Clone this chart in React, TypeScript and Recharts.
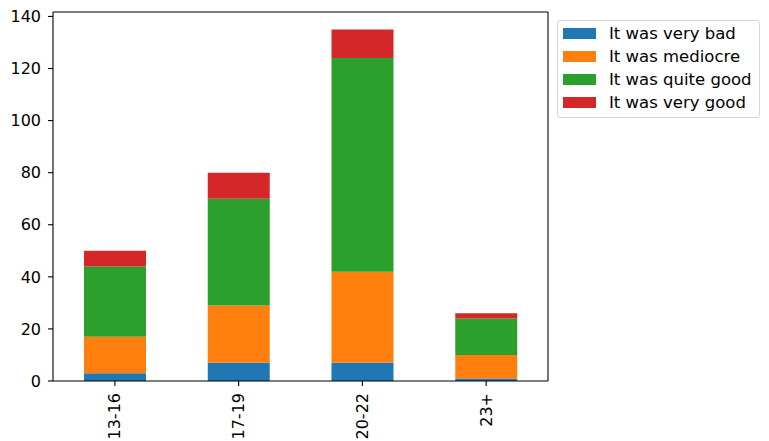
import React from 'react';
import { BarChart, Bar, XAxis, YAxis } from 'recharts';

const ageGroups = ['13-16', '17-19', '20-22', '23+'];
const veryBad = [3, 7, 7, 1];
const mediocre = [14, 22, 35, 9];
const quiteGood = [27, 41, 82, 14];
const veryGood = [6, 10, 11, 2];
const yTicks = [0, 20, 40, 60, 80, 100, 120, 140];

const series = [
  { key: 'veryBad', name: 'It was very bad', color: '#1f77b4' },
  { key: 'mediocre', name: 'It was mediocre', color: '#ff7f0e' },
  { key: 'quiteGood', name: 'It was quite good', color: '#2ca02c' },
  { key: 'veryGood', name: 'It was very good', color: '#d62728' },
];

const data = ageGroups.map((group, i) => ({
  group,
  veryBad: veryBad[i],
  mediocre: mediocre[i],
  quiteGood: quiteGood[i],
  veryGood: veryGood[i],
}));

const FONT = '"DejaVu Sans", sans-serif';
const axisStyle = { stroke: '#000', strokeWidth: 1.1 };

// rotated category labels, like matplotlib's rot=90
const XTick = (props: any) => {
  const { x, y, payload } = props;
  return (
    <g transform={`translate(${x},${y})`}>
      <text transform="rotate(-90)" textAnchor="end" dy="0.35em" fontSize={16} fill="#000" fontFamily={FONT}>
        {payload.value}
      </text>
    </g>
  );
};

const LegendBox = () => (
  <div
    style={{
      position: 'absolute',
      top: 20,
      left: 557,
      width: 203,
      height: 98,
      boxSizing: 'border-box',
      border: '1px solid #d6d6d6',
      borderRadius: 3,
      background: '#fff',
      paddingTop: 1,
      fontFamily: FONT,
      fontSize: 16.5,
      color: '#000',
    }}
  >
    {series.map((s) => (
      <div key={s.key} style={{ display: 'flex', alignItems: 'center', height: 23 }}>
        <span style={{ display: 'inline-block', width: 33, height: 11, background: s.color, marginLeft: 5, marginRight: 13 }} />
        <span style={{ whiteSpace: 'nowrap' }}>{s.name}</span>
      </div>
    ))}
  </div>
);

export default function App() {
  return (
    <div style={{ position: 'absolute', top: 0, left: 0, width: 769, height: 441, background: '#fff' }}>
      <BarChart width={769} height={441} data={data} margin={{ top: 11, right: 220, left: 0, bottom: 0 }}>
        <XAxis
          dataKey="group"
          height={60}
          tick={<XTick />}
          tickSize={5}
          tickMargin={7}
          interval={0}
          axisLine={axisStyle}
          tickLine={axisStyle}
        />
        <XAxis
          xAxisId="top"
          dataKey="group"
          orientation="top"
          height={1}
          tick={false}
          tickLine={false}
          axisLine={axisStyle}
        />
        <YAxis
          width={53}
          domain={[0, 141.7]}
          ticks={yTicks}
          allowDataOverflow
          tickSize={5}
          tickMargin={7}
          tick={{ fontSize: 16, fill: '#000', fontFamily: FONT }}
          axisLine={axisStyle}
          tickLine={axisStyle}
        />
        <YAxis
          yAxisId="right"
          orientation="right"
          width={1}
          domain={[0, 1]}
          tick={false}
          tickLine={false}
          axisLine={axisStyle}
        />
        {series.map((s) => (
          <Bar key={s.key} dataKey={s.key} name={s.name} stackId="a" fill={s.color} barSize={62} isAnimationActive={false} />
        ))}
      </BarChart>
      <LegendBox />
    </div>
  );
}
